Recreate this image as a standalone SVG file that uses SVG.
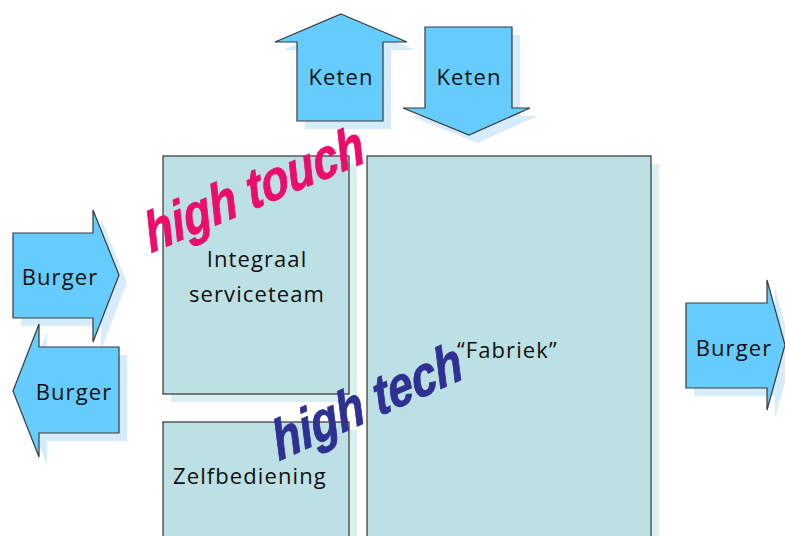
<svg xmlns="http://www.w3.org/2000/svg" width="785" height="536" viewBox="0 0 785 536">
<style>
.box{fill:#bce0e4;stroke:#333;stroke-width:1.2}
.bshadow{fill:#dcefef}
.arr{fill:#66cbfd;stroke:#3a3a3a;stroke-width:1.2;stroke-linejoin:miter}
.ashadow{fill:#d6ecfa}
.lbl{font-family:"Open Sans","Liberation Sans",sans-serif;font-size:22px;letter-spacing:1.1px;fill:#111}
.ht{font-family:"Liberation Sans",Arial,sans-serif;font-weight:bold;font-style:italic;stroke-width:0.8}
</style>
<rect width="785" height="536" fill="#fff"/>
<g id="shadows">
<rect class="bshadow" x="171" y="164" width="186" height="238"/>
<rect class="bshadow" x="171" y="430" width="186" height="120"/>
<rect class="bshadow" x="375" y="164" width="284" height="380"/>
<polygon class="ashadow" points="349,22 415,50 391,50 391,129 305,129 305,50 283,50"/>
<polygon class="ashadow" points="433,35 520,35 520,116 538,116 477,143 411,116 433,116"/>
<polygon class="ashadow" points="21,241 101,241 101,218 127,283 101,350 101,326 21,326"/>
<polygon class="ashadow" points="127,355 127,441 47,441 47,465 21,399 47,332 47,355"/>
<polygon class="ashadow" points="694,311 775,311 775,288 793,353 775,418 775,396 694,396"/>
</g>
<g id="integraal">
<rect class="box" x="163" y="156" width="186" height="238"/>
<text class="lbl" x="257" y="267" text-anchor="middle">Integraal</text>
<text class="lbl" x="257" y="302" text-anchor="middle">serviceteam</text>
</g>
<g id="zelfbediening">
<rect class="box" x="163" y="422" width="186" height="124"/>
<text class="lbl" x="173" y="484">Zelfbediening</text>
</g>
<g id="fabriek">
<rect class="box" x="367" y="156" width="284" height="390"/>
<text class="lbl" x="457" y="358">“Fabriek”</text>
</g>
<g id="keten-up">
<polygon class="arr" points="341,14 407,42 383,42 383,121 297,121 297,42 275,42"/>
<text class="lbl" x="341" y="85" text-anchor="middle">Keten</text>
</g>
<g id="keten-down">
<polygon class="arr" points="425,27 512,27 512,108 530,108 469,135 403,108 425,108"/>
<text class="lbl" x="469" y="85" text-anchor="middle">Keten</text>
</g>
<g id="burger-in">
<polygon class="arr" points="13,233 93,233 93,210 119,275 93,342 93,318 13,318"/>
<text class="lbl" x="60" y="285" text-anchor="middle">Burger</text>
</g>
<g id="burger-out">
<polygon class="arr" points="119,347 119,433 39,433 39,457 13,391 39,324 39,347"/>
<text class="lbl" x="74" y="400" text-anchor="middle">Burger</text>
</g>
<g id="burger-right">
<polygon class="arr" points="686,303 767,303 767,280 785,345 767,410 767,388 686,388"/>
<text class="lbl" x="734" y="356" text-anchor="middle">Burger</text>
</g>
<g id="labels">
<text class="ht" fill="#ec0c6c" stroke="#ec0c6c" font-size="46" transform="translate(151,253) rotate(-23) skewX(-8) scale(1,1.2)">high touch</text>
<text class="ht" fill="#2e3192" stroke="#2e3192" font-size="46" transform="translate(279,461) rotate(-24) skewX(-8) scale(1,1.2)">high tech</text>
</g>
</svg>
